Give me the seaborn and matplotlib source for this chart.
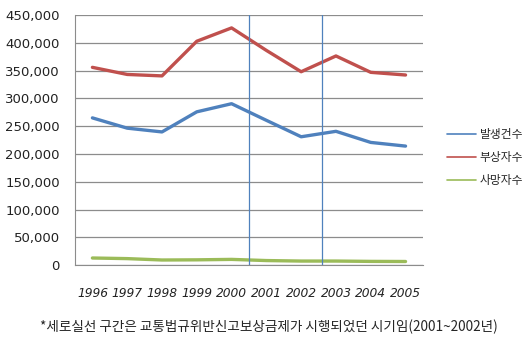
import numpy as np
import pandas as pd
import matplotlib.pyplot as plt
import seaborn as sns
from matplotlib.ticker import FuncFormatter, FixedLocator

sns.set_style("white")
plt.rcParams['font.family'] = ['Noto Sans CJK KR', 'DejaVu Sans']

# data
years = ['1996', '1997', '1998', '1999', '2000', '2001', '2002', '2003', '2004', '2005']
accidents = [265000, 246500, 239700, 275900, 290500, 260600, 231000, 240800, 220800, 214200]
injured = [356000, 343200, 340600, 403000, 427000, 386500, 348100, 376500, 347000, 342200]
deaths = [12700, 11600, 9100, 9400, 10200, 8100, 7200, 7200, 6600, 6400]
series_names = ['발생건수', '부상자수', '사망자수']
colors = ['#4F81BD', '#C0504D', '#9BBB59']

df = pd.DataFrame({
    'idx': list(range(len(years))) * 3,
    'value': accidents + injured + deaths,
    'series': [s for s in series_names for _ in years],
})

fig = plt.figure(figsize=(5.32, 3.52), dpi=100)
ax = fig.add_axes([0.141, 0.247, 0.654, 0.71])

sns.lineplot(data=df, x='idx', y='value', hue='series', palette=colors,
             linewidth=2.4, ax=ax)

# law enforcement period markers
ax.axvline(4.5, color='#4F81BD', linewidth=0.9)
ax.axvline(6.6, color='#4F81BD', linewidth=0.9)

ax.set_xlim(-0.5, len(years) - 0.5)
ax.set_ylim(0, 450000)
ax.set_yticks(np.arange(0, 450001, 50000))
ax.yaxis.set_major_formatter(FuncFormatter(lambda v, p: f'{int(v):,}'))
ax.yaxis.grid(True, color='#8c8c8c', linewidth=0.9)
ax.set_axisbelow(True)

ax.set_xticks(range(len(years)))
ax.set_xticklabels(years, fontstyle='italic', fontsize=8.8, family=['DejaVu Sans'],
                   color='#222222')
ax.xaxis.set_minor_locator(FixedLocator(np.arange(-0.5, len(years), 1.0)))
ax.tick_params(axis='x', which='major', length=0, pad=16)
ax.tick_params(axis='x', which='minor', length=5, color='#8c8c8c', width=0.9)
ax.tick_params(axis='y', length=5, color='#8c8c8c', width=0.9, labelsize=9.5, pad=6,
               labelcolor='#222222')
for lab in ax.get_yticklabels():
    lab.set_family(['DejaVu Sans'])

ax.set_xlabel('')
ax.set_ylabel('')
for side in ['top', 'right']:
    ax.spines[side].set_visible(False)
ax.spines['left'].set_color('#8c8c8c')
ax.spines['bottom'].set_color('#8c8c8c')

leg = ax.legend(loc='center left', bbox_to_anchor=(1.055, 0.43), frameon=False,
                fontsize=8.5, handlelength=2.5, handletextpad=0.3, labelspacing=0.85,
                borderaxespad=0)
for line in leg.get_lines():
    line.set_linewidth(1.2)

fig.text(0.505, 0.07, '*세로실선 구간은 교통법규위반신고보상금제가 시행되었던 시기임(2001~2002년)',
         ha='center', va='center', fontsize=9.8)

plt.savefig('out.png', dpi=100)
plt.close()
